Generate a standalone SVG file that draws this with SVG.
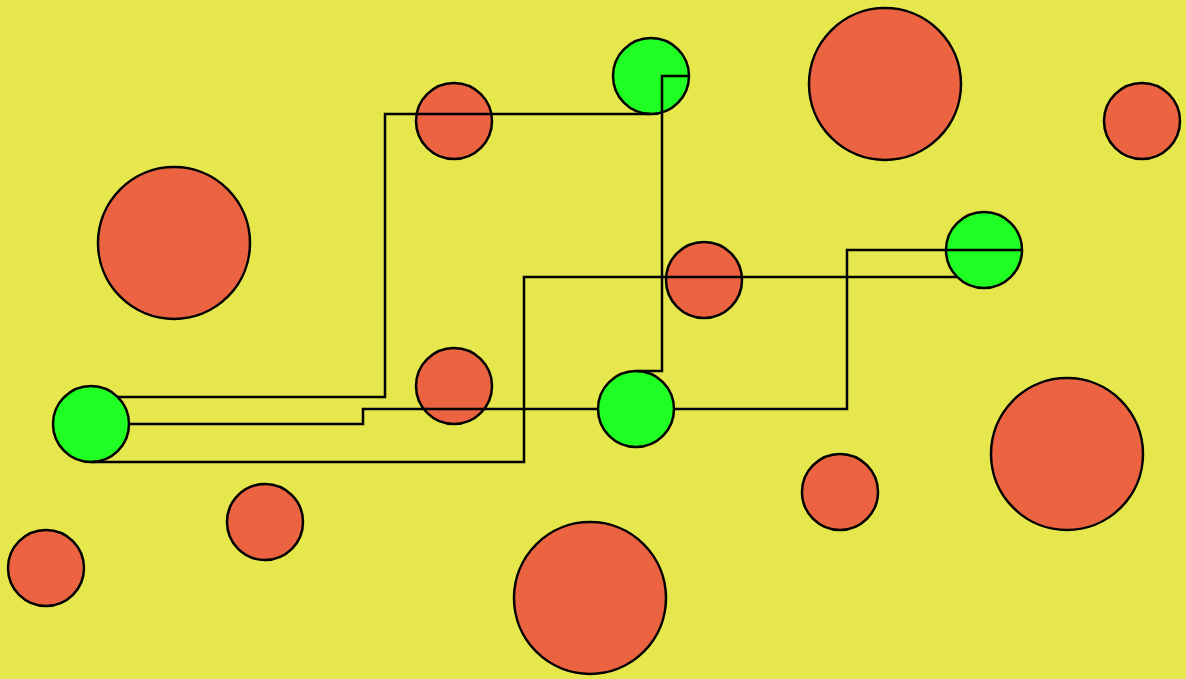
<svg xmlns="http://www.w3.org/2000/svg" width="1186" height="679" viewBox="0 0 1186 679">
<style>
.r{fill:#eb6341;stroke:#000;stroke-width:2.5}
.g{fill:#1fff24;stroke:#000;stroke-width:2.5}
.c{fill:none;stroke:#000;stroke-width:2.5}
</style>
<rect width="1186" height="679" fill="#e6e64d"/>
<g id="r1"><circle class="r" cx="454" cy="121" r="38"/></g>
<g id="r2"><circle class="r" cx="885" cy="84" r="76"/></g>
<g id="r3"><circle class="r" cx="1142" cy="121" r="38"/></g>
<g id="r4"><circle class="r" cx="174" cy="243" r="76"/></g>
<g id="r5"><circle class="r" cx="704" cy="280" r="38"/></g>
<g id="r6"><circle class="r" cx="454" cy="386" r="38"/></g>
<g id="r7"><circle class="r" cx="1067" cy="454" r="76"/></g>
<g id="r8"><circle class="r" cx="840" cy="492" r="38"/></g>
<g id="r9"><circle class="r" cx="265" cy="522" r="38"/></g>
<g id="r10"><circle class="r" cx="46" cy="568" r="38"/></g>
<g id="r11"><circle class="r" cx="590" cy="598" r="76"/></g>
<g id="g1"><circle class="g" cx="651" cy="76" r="38"/></g>
<g id="g2"><circle class="g" cx="984" cy="250" r="38"/></g>
<g id="g3"><circle class="g" cx="91" cy="424" r="38"/></g>
<g id="g4"><circle class="g" cx="636" cy="409" r="38"/></g>
<g id="connectors">
<polyline class="c" points="117,397 385,397 385,114 651,114"/>
<polyline class="c" points="129,424 363,424 363,409 598,409"/>
<polyline class="c" points="91,462 524,462 524,277 957,277"/>
<polyline class="c" points="674,409 847,409 847,250 1022,250"/>
<polyline class="c" points="636,371 662,371 662,76 689,76"/>
</g>
</svg>
